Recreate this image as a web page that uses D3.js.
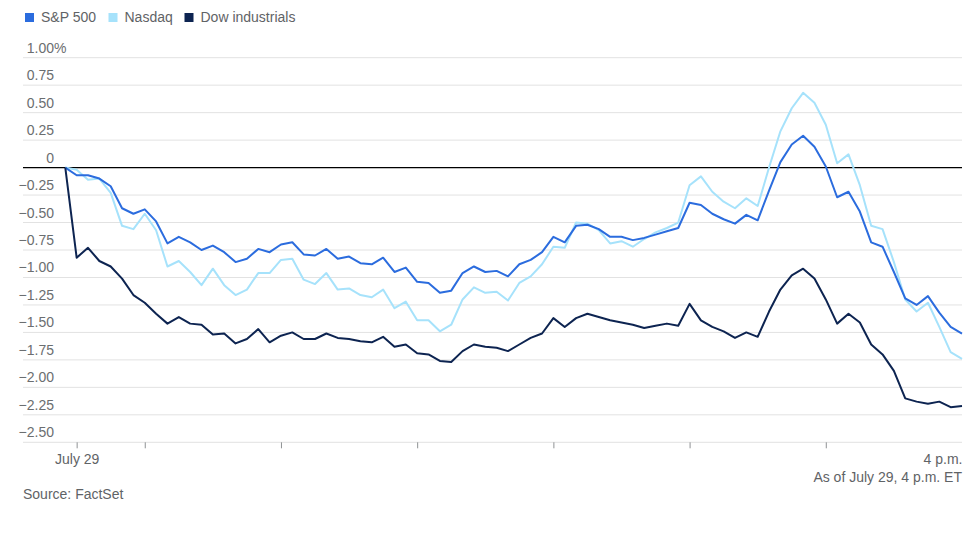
<!DOCTYPE html>
<html>
<head>
<meta charset="utf-8">
<script src="https://cdn.jsdelivr.net/npm/d3@7"></script>
<style>
  body { margin: 0; background: #fff; }
  svg { display: block; font-family: "Liberation Sans", Arial, Helvetica, sans-serif; }
</style>
</head>
<body>
<div id="chart"></div>
<script>
// series, % change from previous close, 5-minute steps
var seriesNames = ["S&P 500", "Nasdaq", "Dow industrials"];
var seriesColors = ["#2b6cde", "#a6e2fb", "#0d2451"];

var sp500 = [0, -0.07, -0.07, -0.10, -0.17, -0.37, -0.42, -0.38, -0.49, -0.69,
  -0.63, -0.68, -0.75, -0.71, -0.77, -0.86, -0.83, -0.74, -0.77, -0.70,
  -0.68, -0.79, -0.80, -0.74, -0.83, -0.81, -0.87, -0.88, -0.82, -0.95,
  -0.91, -1.04, -1.05, -1.14, -1.12, -0.96, -0.90, -0.95, -0.94, -0.99,
  -0.88, -0.84, -0.77, -0.63, -0.68, -0.53, -0.52, -0.56, -0.63, -0.63,
  -0.66, -0.64, -0.61, -0.58, -0.55, -0.32, -0.34, -0.42, -0.47, -0.51,
  -0.43, -0.48, -0.21, 0.05, 0.21, 0.29, 0.19, 0.01, -0.27, -0.22,
  -0.40, -0.68, -0.72, -0.95, -1.19, -1.25, -1.17, -1.32, -1.45, -1.51];

var nasdaq = [0, -0.02, -0.11, -0.10, -0.23, -0.53, -0.56, -0.42, -0.57, -0.90,
  -0.85, -0.95, -1.07, -0.92, -1.07, -1.16, -1.11, -0.96, -0.96, -0.84,
  -0.83, -1.02, -1.06, -0.96, -1.11, -1.10, -1.16, -1.18, -1.11, -1.28,
  -1.22, -1.39, -1.39, -1.49, -1.43, -1.20, -1.09, -1.14, -1.13, -1.21,
  -1.05, -0.99, -0.88, -0.72, -0.73, -0.50, -0.51, -0.57, -0.69, -0.67,
  -0.72, -0.65, -0.59, -0.55, -0.50, -0.16, -0.08, -0.22, -0.31, -0.37,
  -0.28, -0.35, 0.00, 0.33, 0.54, 0.68, 0.59, 0.39, 0.04, 0.12,
  -0.16, -0.53, -0.56, -0.86, -1.20, -1.31, -1.23, -1.45, -1.68, -1.74];

var dow = [0, -0.82, -0.73, -0.85, -0.90, -1.01, -1.16, -1.23, -1.33, -1.42,
  -1.36, -1.42, -1.43, -1.52, -1.51, -1.60, -1.56, -1.47, -1.59, -1.53,
  -1.50, -1.56, -1.56, -1.51, -1.55, -1.56, -1.58, -1.59, -1.54, -1.63,
  -1.61, -1.69, -1.70, -1.76, -1.77, -1.67, -1.61, -1.63, -1.64, -1.67,
  -1.61, -1.55, -1.51, -1.37, -1.45, -1.37, -1.33, -1.36, -1.39, -1.41,
  -1.43, -1.46, -1.44, -1.42, -1.44, -1.24, -1.39, -1.45, -1.49, -1.55,
  -1.50, -1.54, -1.31, -1.11, -0.98, -0.92, -1.01, -1.20, -1.42, -1.33,
  -1.41, -1.61, -1.70, -1.85, -2.10, -2.13, -2.15, -2.13, -2.18, -2.17];

// minutes since midnight: first point is previous close, then 9:30 .. 16:00
var startMinute = 9 * 60 + 25;
var stepMinutes = 5;

var yTicks = [1, 0.75, 0.5, 0.25, 0, -0.25, -0.5, -0.75, -1, -1.25, -1.5, -1.75, -2, -2.25, -2.5];
var xTicks = [570, 600, 660, 720, 780, 840, 900, 960];
var xTickLabels = {570: "July 29", 960: "4 p.m."};

var width = 972, height = 537;

var svg = d3.select("#chart").append("svg")
  .attr("width", width)
  .attr("height", height);

var x = d3.scaleLinear().domain([startMinute, 960]).range([65.3, 962]);
var y = d3.scaleLinear().domain([-2.5, 1]).range([442.3, 57.7]);

// legend
var legend = svg.append("g").attr("class", "legend");
var legendX = [25, 108.5, 184.5];
seriesNames.forEach(function(name, i){
  legend.append("rect")
    .attr("x", legendX[i])
    .attr("y", 13)
    .attr("width", 9)
    .attr("height", 9)
    .attr("fill", seriesColors[i]);
  legend.append("text")
    .attr("x", legendX[i] + 16)
    .attr("y", 22)
    .attr("font-size", 14)
    .attr("fill", "#5f6366")
    .text(name);
});

// grid + y labels
var grid = svg.append("g").attr("class", "grid");
grid.selectAll("line")
  .data(yTicks.filter(function(d){ return d !== 0; }))
  .enter().append("line")
  .attr("x1", 23)
  .attr("x2", 962)
  .attr("y1", function(d){ return y(d); })
  .attr("y2", function(d){ return y(d); })
  .attr("stroke", "#e2e2e2")
  .attr("stroke-width", 1);

grid.selectAll("text")
  .data(yTicks)
  .enter().append("text")
  .attr("x", 54)
  .attr("y", function(d){ return y(d) - 5; })
  .attr("text-anchor", "end")
  .attr("font-size", 14)
  .attr("fill", "#6b6e70")
  .text(function(d){ return d === 0 ? "0" : d3.format(".2f")(d); });

grid.append("text")
  .attr("x", 54)
  .attr("y", y(1) - 5)
  .attr("font-size", 14)
  .attr("fill", "#6b6e70")
  .text("%");

// x axis
var xAxis = d3.axisBottom(x)
  .tickValues(xTicks)
  .tickSize(6)
  .tickPadding(6)
  .tickFormat(function(d){ return xTickLabels[d] || ""; });

var gx = svg.append("g")
  .attr("transform", "translate(0," + y(-2.5) + ")")
  .call(xAxis);
gx.select(".domain").remove();
gx.selectAll(".tick line").attr("stroke", "#8f9294");
gx.selectAll(".tick text")
  .attr("font-family", "\"Liberation Sans\", Arial, Helvetica, sans-serif")
  .attr("font-size", 14)
  .attr("fill", "#5f6366");
gx.selectAll(".tick").filter(function(d){ return d === 960; })
  .each(function(){
    d3.select(this).select("line").remove();
    d3.select(this).select("text").attr("text-anchor", "end").attr("x", 0);
  });

// lines
var line = d3.line()
  .x(function(d, i){ return x(startMinute + i * stepMinutes); })
  .y(function(d){ return y(d); });

var order = [[nasdaq, 1], [sp500, 0], [dow, 2]];

svg.append("line")
  .attr("x1", 23)
  .attr("x2", 962)
  .attr("y1", y(0))
  .attr("y2", y(0))
  .attr("stroke", "#000")
  .attr("stroke-width", 1.2);

order.forEach(function(o){
  svg.append("path")
    .datum(o[0])
    .attr("fill", "none")
    .attr("stroke", seriesColors[o[1]])
    .attr("stroke-width", 2)
    .attr("stroke-linejoin", "round")
    .attr("d", line);
});

// notes
svg.append("text")
  .attr("x", 962)
  .attr("y", 482)
  .attr("text-anchor", "end")
  .attr("font-size", 14)
  .attr("fill", "#5f6366")
  .text("As of July 29, 4 p.m. ET");

svg.append("text")
  .attr("x", 23)
  .attr("y", 499)
  .attr("font-size", 14)
  .attr("fill", "#5f6366")
  .text("Source: FactSet");
</script>
</body>
</html>
